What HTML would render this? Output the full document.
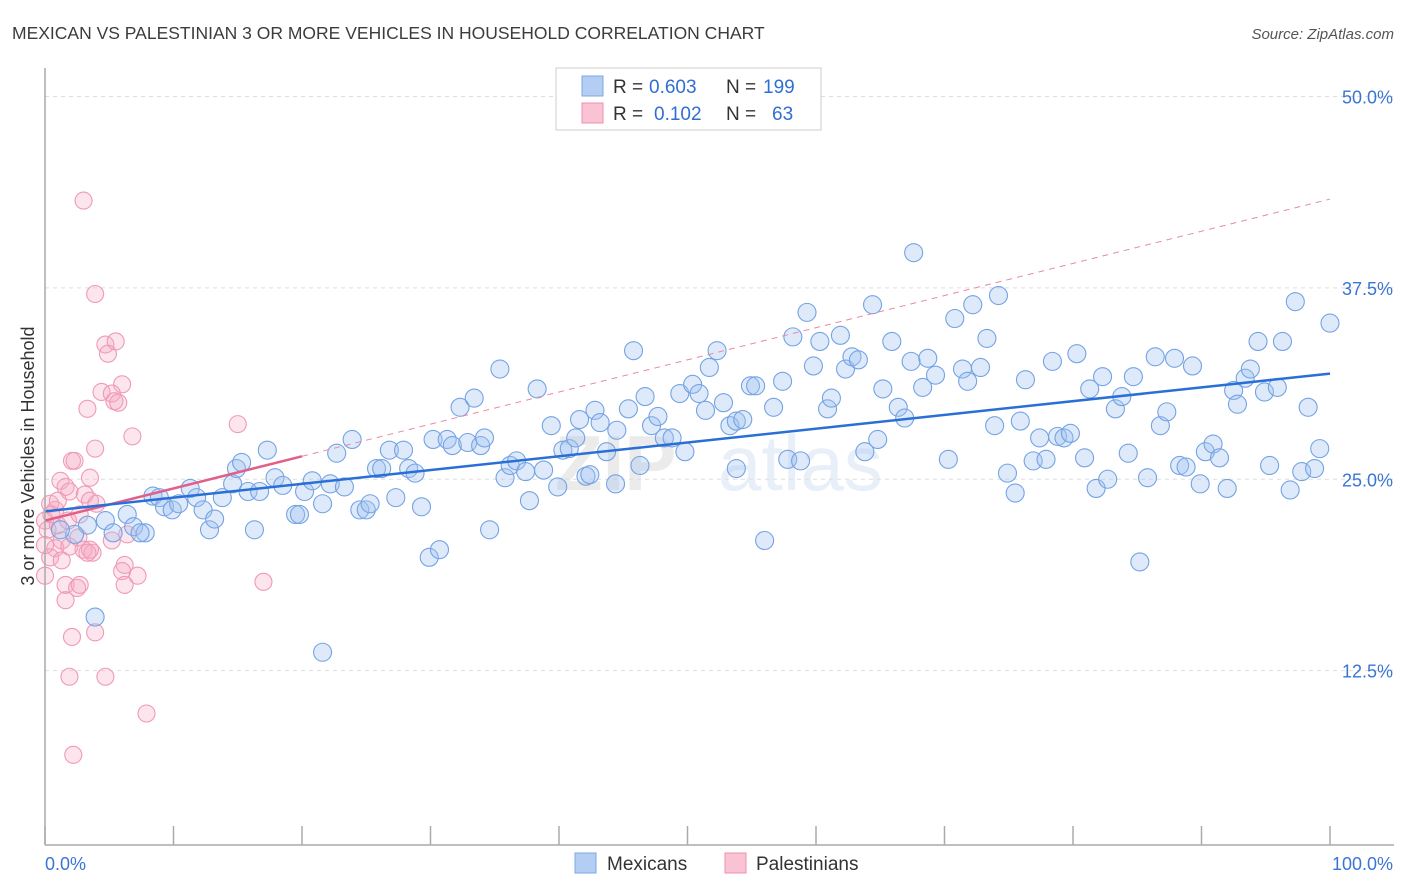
<!DOCTYPE html>
<html><head><meta charset="utf-8">
<style>
html,body{margin:0;padding:0;background:#fff;}
body{width:1406px;height:892px;overflow:hidden;font-family:"Liberation Sans",Arial,sans-serif;}
svg{display:block}
</style></head>
<body>
<svg id="chart" width="1406" height="892" xmlns="http://www.w3.org/2000/svg">
<text x="12" y="39" font-size="17.5" fill="#3c3c3c">MEXICAN VS PALESTINIAN 3 OR MORE VEHICLES IN HOUSEHOLD CORRELATION CHART</text>
<text x="1394" y="39" font-size="15" fill="#555" text-anchor="end" font-style="italic">Source: ZipAtlas.com</text>
<text transform="translate(34,456) rotate(-90)" font-size="18" fill="#333" text-anchor="middle">3 or more Vehicles in Household</text>
<g opacity="0.12">
<text x="555" y="490" font-size="78" font-weight="bold" fill="#666">ZIP</text>
<text x="718" y="490" font-size="78" fill="#4a7fd0">atlas</text>
</g>
<g id="grid"></g>
<g id="marks"></g>
<g id="axes"></g>
<g>
<rect x="556" y="68" width="265" height="62" fill="#fff" stroke="#ccc"/>
<rect x="582" y="76" width="21" height="20" fill="#b3cdf3" stroke="#7ea6e6"/>
<rect x="582" y="103" width="21" height="20" fill="#f9c3d3" stroke="#ee8fac"/>
<text x="613" y="93" font-size="19" fill="#333">R =</text>
<text x="649" y="93" font-size="19" fill="#2f6fd2">0.603</text>
<text x="726" y="93" font-size="19" fill="#333">N =</text>
<text x="763" y="93" font-size="19" fill="#2f6fd2">199</text>
<text x="613" y="120" font-size="19" fill="#333">R =</text>
<text x="654" y="120" font-size="19" fill="#2f6fd2">0.102</text>
<text x="726" y="120" font-size="19" fill="#333">N =</text>
<text x="772" y="120" font-size="19" fill="#2f6fd2">63</text>
</g>
<g>
<rect x="575" y="853" width="21" height="20" fill="#b3cdf3" stroke="#7ea6e6"/>
<text x="607" y="870" font-size="19" fill="#333">Mexicans</text>
<rect x="725" y="853" width="21" height="20" fill="#f9c3d3" stroke="#ee8fac"/>
<text x="756" y="870" font-size="19" fill="#333">Palestinians</text>
</g>
</svg>
<script>
const yTicks=[12.5,25,37.5,50];
const yTickLabels=["12.5%","25.0%","37.5%","50.0%"];
const xEndLabels=["0.0%","100.0%"];
const mexX=[3.9,3.3,2.3,1.2,4.7,5.3,6.4,6.9,7.8,7.4,8.4,8.9,9.3,9.9,10.4,11.3,11.8,12.3,12.8,13.2,13.8,14.6,14.9,15.3,15.8,16.3,16.7,17.3,17.9,18.5,19.5,19.8,20.2,20.8,21.6,21.6,22.2,22.7,23.3,23.9,24.5,25.0,25.3,25.8,26.2,26.8,27.3,27.9,28.3,28.8,29.3,29.9,30.7,30.2,31.3,31.7,32.3,32.9,33.4,33.9,34.2,34.6,35.4,35.8,36.2,36.7,37.4,37.7,38.3,38.8,39.4,39.9,40.3,40.8,41.3,41.6,42.1,42.4,42.8,43.2,43.7,44.4,44.5,45.4,45.8,46.3,46.7,47.2,47.7,48.2,48.8,49.4,49.8,50.4,50.9,51.4,51.7,52.3,52.8,53.3,53.8,53.8,54.3,54.9,55.3,56.0,56.7,57.4,57.8,58.2,58.8,59.3,59.8,60.3,60.9,61.2,61.9,62.3,62.8,63.3,63.8,64.4,64.8,65.2,65.9,66.4,66.9,67.4,67.6,68.3,68.7,69.3,70.3,70.8,71.4,71.8,72.2,72.8,73.3,73.9,74.2,74.9,75.5,75.9,76.3,76.9,77.4,77.9,78.4,78.8,79.3,79.8,80.3,80.9,81.3,81.8,82.3,82.7,83.3,83.8,84.3,84.7,85.2,85.8,86.4,86.8,87.3,87.9,88.3,88.8,89.3,89.9,90.3,90.9,91.4,92.0,92.5,92.8,93.4,93.8,94.4,94.9,95.3,95.9,96.3,96.9,97.3,97.8,98.3,98.8,99.2,100];
const mexY=[16.0,22.0,21.4,21.7,22.3,21.5,22.7,21.9,21.5,21.5,23.9,23.8,23.2,23.0,23.4,24.4,23.8,23.0,21.7,22.4,23.8,24.7,25.7,26.1,24.2,21.7,24.2,26.9,25.1,24.6,22.7,22.7,24.2,24.9,23.4,13.7,24.7,26.7,24.5,27.6,23.0,23.0,23.4,25.7,25.7,26.9,23.8,26.9,25.7,25.4,23.2,19.9,20.4,27.6,27.6,27.2,29.7,27.4,30.3,27.2,27.7,21.7,32.2,25.1,25.9,26.2,25.5,23.6,30.9,25.6,28.5,24.5,26.9,27.0,27.7,28.9,25.2,25.3,29.5,28.7,26.8,24.7,28.2,29.6,33.4,25.9,30.4,28.5,29.1,27.7,27.7,30.6,26.8,31.2,30.6,29.5,32.3,33.4,30.0,28.5,25.7,28.8,28.9,31.1,31.1,21.0,29.7,31.4,26.3,34.3,26.2,35.9,32.4,34.0,29.6,30.3,34.4,32.2,33.0,32.8,26.8,36.4,27.6,30.9,34.0,29.7,29.0,32.7,39.8,31.0,32.9,31.8,26.3,35.5,32.2,31.4,36.4,32.3,34.2,28.5,37.0,25.4,24.1,28.8,31.5,26.2,27.7,26.3,32.7,27.8,27.7,28.0,33.2,26.4,30.9,24.4,31.7,25.0,29.6,30.4,26.7,31.7,19.6,25.1,33.0,28.5,29.4,32.9,25.9,25.8,32.4,24.7,26.8,27.3,26.4,24.4,30.8,29.9,31.6,32.2,34.0,30.7,25.9,31.0,34.0,24.3,36.6,25.5,29.7,25.7,27.0,35.2];
const palX=[3.0,3.9,4.7,4.9,5.5,6.0,4.4,5.2,5.4,5.7,3.3,6.8,15.0,3.9,2.1,2.3,3.5,1.2,1.6,1.9,3.1,3.5,4.0,0.4,0.8,0,0.5,1.0,0.2,1.3,0.8,1.9,2.6,3.0,3.7,0.4,1.3,0,1.6,2.5,2.7,5.2,6.4,6.2,6.0,7.2,6.2,17.0,2.1,3.9,1.9,4.7,7.9,2.2,1.8,2.7,3.5,0,1.0,1.6,3.3];
const palY=[43.2,37.1,33.8,33.2,34.0,31.2,30.7,30.6,30.1,30.0,29.6,27.8,28.6,27.0,26.2,26.2,25.1,24.9,24.5,24.2,24.0,23.6,23.4,23.4,23.0,22.3,22.7,22.0,21.7,21.0,20.5,20.6,21.2,20.4,20.2,19.9,19.7,18.7,18.1,17.9,18.1,21.0,21.4,19.4,19.0,18.7,18.1,18.3,14.7,15.0,12.1,12.1,9.7,7.0,22.3,22.7,20.4,20.7,23.6,17.1,20.2];
const mexFit=[22.9,0.09];
const palFit=[22.3,0.21];
const palSolidEnd=20;

const X0=45,X1=1330,Y0=862,PPU=15.31;
const sx=v=>X0+(X1-X0)*v/100;
const sy=v=>Y0-PPU*v;
const NS="http://www.w3.org/2000/svg";
function mk(tag,attrs,parent){const e=document.createElementNS(NS,tag);for(const k in attrs)e.setAttribute(k,attrs[k]);parent.appendChild(e);return e;}
const grid=document.getElementById('grid'),marks=document.getElementById('marks'),axes=document.getElementById('axes');

yTicks.forEach((t,i)=>{
  const l=mk('line',{x1:X0,x2:1394,y1:sy(t),y2:sy(t),stroke:'#ddd','stroke-dasharray':'4,4'},grid);
  
  
  const tx=mk('text',{x:1393,y:sy(t)+7,'font-size':18,fill:'#3b75d4','text-anchor':'end'},axes);
  tx.textContent=yTickLabels[i];
  
  
});
const ax=mk('line',{x1:X0,x2:X0,y1:68,y2:845,stroke:'#aaa','stroke-width':1.5},axes);


const bx=mk('line',{x1:X0,x2:1394,y1:845,y2:845,stroke:'#aaa','stroke-width':1.5},axes);


for(let i=0;i<=10;i++){
  const x=X0+i*(X1-X0)/10;
  const t=mk('line',{x1:x,x2:x,y1:826,y2:845,stroke:'#aaa','stroke-width':1.5},axes);
  
  
}
[[0,'start',45],[100,'end',1393]].forEach((d,i)=>{
  const t=mk('text',{x:d[2],y:870,'font-size':18,fill:'#3b75d4','text-anchor':d[1]},axes);
  t.textContent=xEndLabels[i];
  
  
});

palX.forEach((v,i)=>{
  const c=mk('circle',{cx:sx(v),cy:sy(palY[i]),r:8.5,fill:'rgba(246,170,195,0.3)',stroke:'#f09ab5','stroke-width':1.1},marks);
  
  
});
mexX.forEach((v,i)=>{
  const c=mk('circle',{cx:sx(v),cy:sy(mexY[i]),r:9,fill:'rgba(160,195,240,0.35)',stroke:'#74a3e4','stroke-width':1.1},marks);
  
  
});
const pd=mk('line',{x1:sx(palSolidEnd),y1:sy(palFit[0]+palFit[1]*palSolidEnd),x2:sx(100),y2:sy(palFit[0]+palFit[1]*100),stroke:'#e88aa6','stroke-width':1,'stroke-dasharray':'6,5'},marks);


const ps=mk('line',{x1:sx(0),y1:sy(palFit[0]),x2:sx(palSolidEnd),y2:sy(palFit[0]+palFit[1]*palSolidEnd),stroke:'#e0608a','stroke-width':2.5},marks);


const ml=mk('line',{x1:sx(0),y1:sy(mexFit[0]),x2:sx(100),y2:sy(mexFit[0]+mexFit[1]*100),stroke:'#2a6fd6','stroke-width':2.5},marks);


</script>
</body></html>
